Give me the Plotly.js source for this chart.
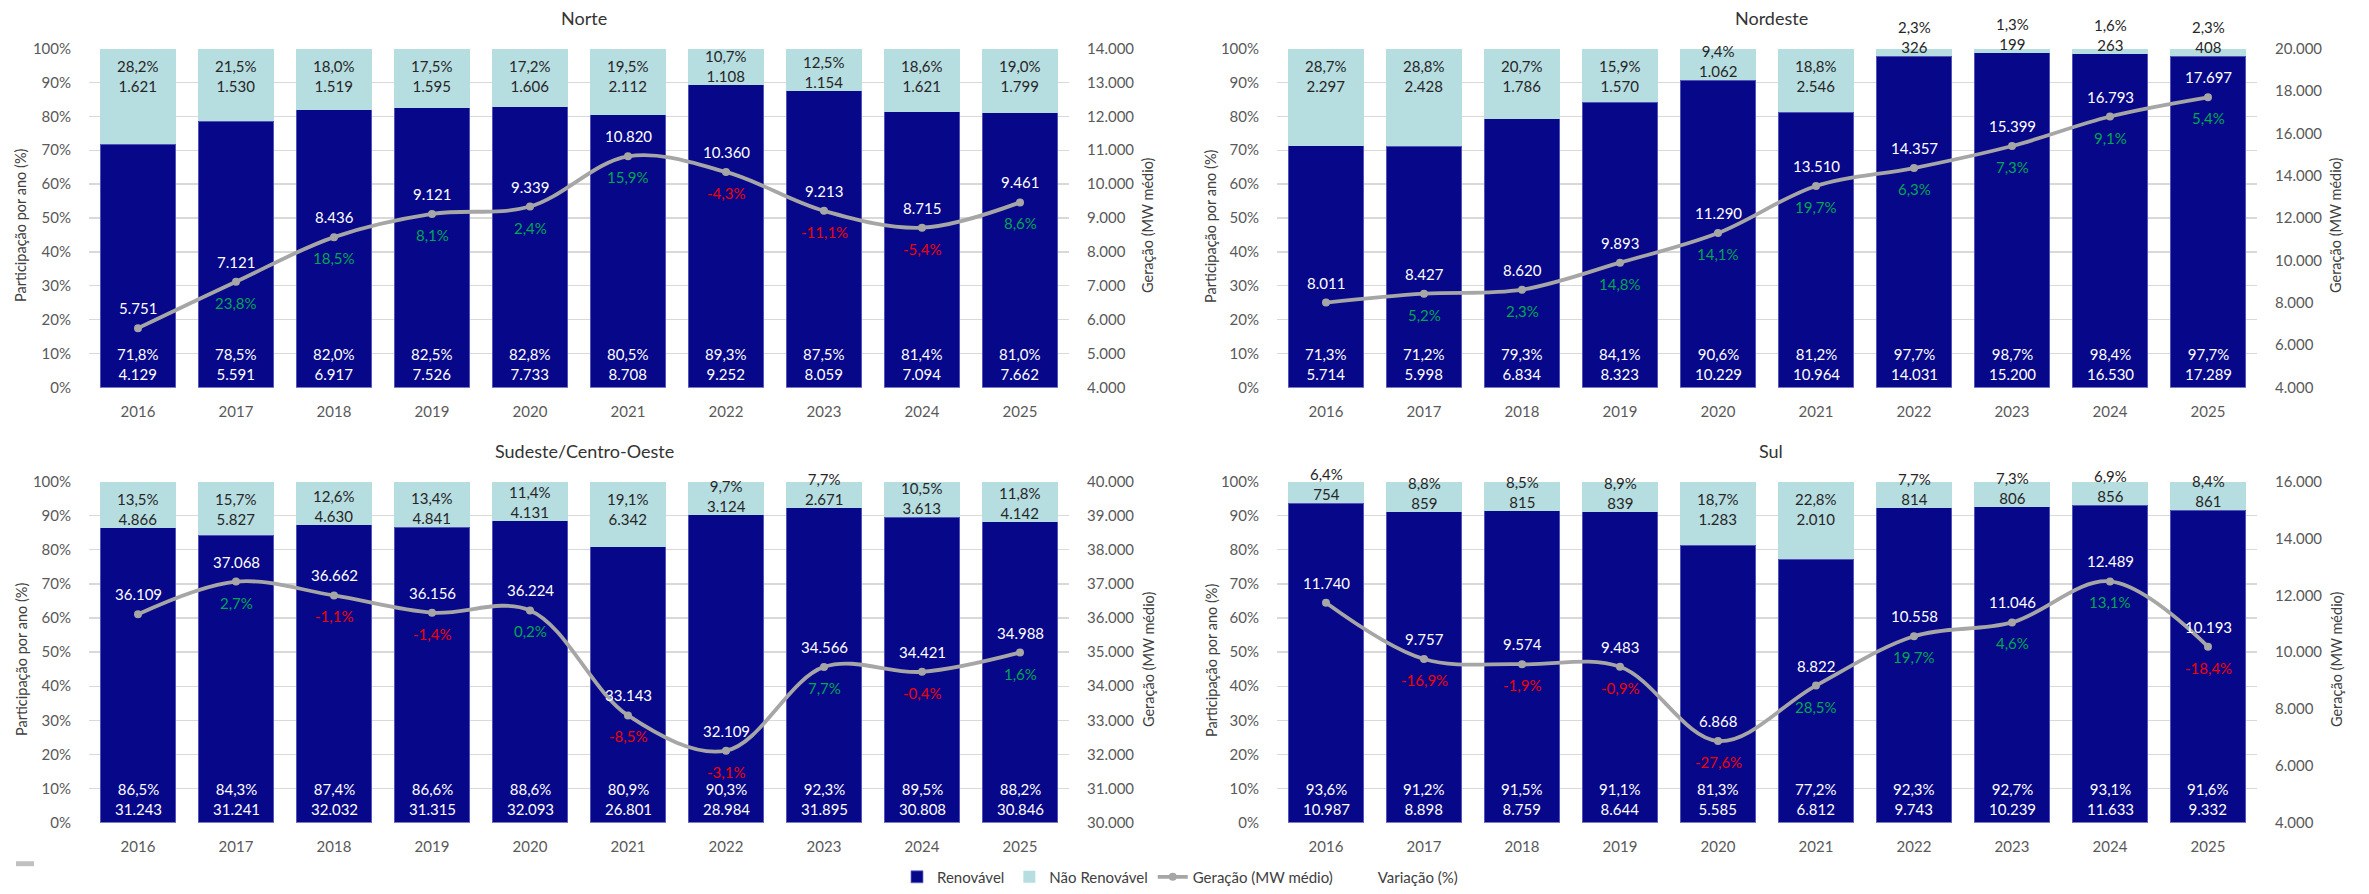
<!DOCTYPE html>
<html>
<head>
<meta charset="utf-8">
<script src="https://cdn.plot.ly/plotly-3.0.1.min.js"></script>
<style>
  html, body { margin: 0; padding: 0; background: #ffffff; }
  #chart { width: 2369px; height: 894px; }
</style>
</head>
<body>
<div id="chart"></div>
<script>
// Anos (categorias do eixo x)
const years = ['2016', '2017', '2018', '2019', '2020', '2021', '2022', '2023', '2024', '2025'];

// Norte
const nortePctRen = [71.8, 78.5, 82.0, 82.5, 82.8, 80.5, 89.3, 87.5, 81.4, 81.0];
const norteMwRen  = [4129, 5591, 6917, 7526, 7733, 8708, 9252, 8059, 7094, 7662];
const nortePctNao = [28.2, 21.5, 18.0, 17.5, 17.2, 19.5, 10.7, 12.5, 18.6, 19.0];
const norteMwNao  = [1621, 1530, 1519, 1595, 1606, 2112, 1108, 1154, 1621, 1799];
const norteGer    = [5751, 7121, 8436, 9121, 9339, 10820, 10360, 9213, 8715, 9461];
const norteVar    = [null, 23.8, 18.5, 8.1, 2.4, 15.9, -4.3, -11.1, -5.4, 8.6];

// Nordeste
const nordestePctRen = [71.3, 71.2, 79.3, 84.1, 90.6, 81.2, 97.7, 98.7, 98.4, 97.7];
const nordesteMwRen  = [5714, 5998, 6834, 8323, 10229, 10964, 14031, 15200, 16530, 17289];
const nordestePctNao = [28.7, 28.8, 20.7, 15.9, 9.4, 18.8, 2.3, 1.3, 1.6, 2.3];
const nordesteMwNao  = [2297, 2428, 1786, 1570, 1062, 2546, 326, 199, 263, 408];
const nordesteGer    = [8011, 8427, 8620, 9893, 11290, 13510, 14357, 15399, 16793, 17697];
const nordesteVar    = [null, 5.2, 2.3, 14.8, 14.1, 19.7, 6.3, 7.3, 9.1, 5.4];

// Sudeste/Centro-Oeste
const sudestePctRen = [86.5, 84.3, 87.4, 86.6, 88.6, 80.9, 90.3, 92.3, 89.5, 88.2];
const sudesteMwRen  = [31243, 31241, 32032, 31315, 32093, 26801, 28984, 31895, 30808, 30846];
const sudestePctNao = [13.5, 15.7, 12.6, 13.4, 11.4, 19.1, 9.7, 7.7, 10.5, 11.8];
const sudesteMwNao  = [4866, 5827, 4630, 4841, 4131, 6342, 3124, 2671, 3613, 4142];
const sudesteGer    = [36109, 37068, 36662, 36156, 36224, 33143, 32109, 34566, 34421, 34988];
const sudesteVar    = [null, 2.7, -1.1, -1.4, 0.2, -8.5, -3.1, 7.7, -0.4, 1.6];

// Sul
const sulPctRen = [93.6, 91.2, 91.5, 91.1, 81.3, 77.2, 92.3, 92.7, 93.1, 91.6];
const sulMwRen  = [10987, 8898, 8759, 8644, 5585, 6812, 9743, 10239, 11633, 9332];
const sulPctNao = [6.4, 8.8, 8.5, 8.9, 18.7, 22.8, 7.7, 7.3, 6.9, 8.4];
const sulMwNao  = [754, 859, 815, 839, 1283, 2010, 814, 806, 856, 861];
const sulGer    = [11740, 9757, 9574, 9483, 6868, 8822, 10558, 11046, 12489, 10193];
const sulVar    = [null, -16.9, -1.9, -0.9, -27.6, 28.5, 19.7, 4.6, 13.1, -18.4];

// Rótulos
const titles = ['Norte', 'Nordeste', 'Sudeste/Centro-Oeste', 'Sul'];
const seriesNames = ['Renovável', 'Não Renovável', 'Geração (MW médio)', 'Variação (%)'];
const leftTitle = 'Participação por ano (%)';
const rightTitle = 'Geração (MW médio)';
const pctTicks = [0, 10, 20, 30, 40, 50, 60, 70, 80, 90, 100];

// ---------------------------------------------------------------------------
const W = 2369, H = 894;
const px = x => x / W;
const py = y => 1 - y / H;

const COL_REN = '#07078A';
const COL_NAO = '#B6DDE0';
const COL_LINE = '#A6A6A6';
const COL_POS = '#00A650';
const COL_NEG = '#F00000';
const COL_TICK = '#595959';
const FONT = 'Lato, "Open Sans", "Noto Sans", sans-serif';

const fmtPct = v => v.toFixed(1).replace('.', ',') + '%';
const fmtMw = v => String(Math.round(v)).replace(/\B(?=(\d{3})+(?!\d))/g, '.');

const panels = [
  { pr: nortePctRen, mr: norteMwRen, pn: nortePctNao, mn: norteMwNao, ger: norteGer, vr: norteVar,
    gRange: [4000, 14000], gDtick: 1000 },
  { pr: nordestePctRen, mr: nordesteMwRen, pn: nordestePctNao, mn: nordesteMwNao, ger: nordesteGer, vr: nordesteVar,
    gRange: [4000, 20000], gDtick: 2000 },
  { pr: sudestePctRen, mr: sudesteMwRen, pn: sudestePctNao, mn: sudesteMwNao, ger: sudesteGer, vr: sudesteVar,
    gRange: [30000, 40000], gDtick: 1000 },
  { pr: sulPctRen, mr: sulMwRen, pn: sulPctNao, mn: sulMwNao, ger: sulGer, vr: sulVar,
    gRange: [4000, 16000], gDtick: 2000 }
];

// plot-area geometry (pixels) for the 2x2 grid
const colsGeom = [
  { l: 89, r: 1069, titleX: 584, leftT: 21, rightT: 1148 },
  { l: 1277, r: 2257, titleX: 1771, leftT: 1211, rightT: 2336 }
];
const rowsGeom = [
  { t: 49, b: 391, titleY: 18 },
  { t: 486, b: 830, titleY: 455 }
];

const traces = [];
const annotations = [];
const layout = {
  width: W, height: H,
  margin: { l: 0, r: 0, t: 0, b: 0 },
  paper_bgcolor: '#ffffff',
  plot_bgcolor: 'rgba(0,0,0,0)',
  font: { family: FONT, size: 15, color: '#404040' },
  separators: ',.',
  barmode: 'stack',
  bargap: 0.23,
  showlegend: true,
  hovermode: false,
  legend: {
    orientation: 'h',
    x: px(1180), xanchor: 'center',
    y: py(885), yanchor: 'middle',
    traceorder: 'normal',
    font: { family: FONT, size: 15, color: '#404040' },
    itemwidth: 30,
    bgcolor: 'rgba(0,0,0,0)'
  },
  shapes: [
    { type: 'rect', xref: 'paper', yref: 'paper',
      x0: px(16), x1: px(34), y0: py(874), y1: py(869),
      fillcolor: '#C0C0C0', line: { width: 0 } }
  ],
  annotations: annotations
};

panels.forEach((p, k) => {
  const col = colsGeom[k % 2];
  const row = rowsGeom[Math.floor(k / 2)];
  const n = k + 1;
  const xa = n === 1 ? 'x' : 'x' + n;
  const ya = n === 1 ? 'y' : 'y' + n;
  const yg = 'y' + (n + 4);
  const first = k === 0;

  layout['xaxis' + (n === 1 ? '' : n)] = {
    domain: [px(col.l), px(col.r)],
    anchor: ya,
    type: 'category',
    range: [-0.5, years.length - 0.5],
    autorange: false,
    showgrid: false, zeroline: false, showline: false,
    ticks: '', ticklabelstandoff: 13,
    tickfont: { family: FONT, size: 15, color: COL_TICK },
    fixedrange: true
  };
  layout['yaxis' + (n === 1 ? '' : n)] = {
    domain: [py(row.b), py(row.t)],
    anchor: xa,
    range: [0, 100],
    autorange: false,
    tickmode: 'array',
    tickvals: pctTicks,
    ticktext: pctTicks.map(v => v + '%'),
    showgrid: true, gridcolor: '#D9D9D9', gridwidth: 1.3,
    zeroline: false, showline: false,
    ticks: '', ticklabelstandoff: 17,
    tickfont: { family: FONT, size: 15, color: COL_TICK },
    fixedrange: true
  };
  layout['yaxis' + (n + 4)] = {
    overlaying: ya,
    anchor: xa,
    side: 'right',
    range: p.gRange,
    autorange: false,
    dtick: p.gDtick,
    tickformat: ',d',
    showgrid: false, zeroline: false, showline: false,
    ticks: '', ticklabelstandoff: 17,
    tickfont: { family: FONT, size: 15, color: COL_TICK },
    fixedrange: true
  };

  traces.push({
    type: 'bar', name: seriesNames[0], legendgroup: 'ren', showlegend: first,
    x: years, y: p.pr, xaxis: xa, yaxis: ya,
    marker: { color: COL_REN, line: { color: 'rgba(110,110,200,0.75)', width: 1 } },
    hoverinfo: 'skip'
  });
  traces.push({
    type: 'bar', name: seriesNames[1], legendgroup: 'nao', showlegend: first,
    x: years, y: p.pn, xaxis: xa, yaxis: ya,
    marker: { color: COL_NAO, line: { width: 0 } },
    hoverinfo: 'skip'
  });
  traces.push({
    type: 'scatter', mode: 'lines+markers', name: seriesNames[2], legendgroup: 'ger', showlegend: first,
    x: years, y: p.ger, xaxis: xa, yaxis: yg,
    line: { color: COL_LINE, width: 3.8, shape: 'spline', smoothing: 1 },
    marker: { color: COL_LINE, size: 8 },
    cliponaxis: false,
    hoverinfo: 'skip'
  });
  if (first) {
    traces.push({
      type: 'scatter', mode: 'lines', name: seriesNames[3], legendgroup: 'var', showlegend: true,
      x: [null], y: [null], xaxis: xa, yaxis: yg,
      line: { color: 'rgba(0,0,0,0)', width: 0 },
      hoverinfo: 'skip'
    });
  }

  // annotation x on a category axis is the category's serial number
  years.forEach((yr, i) => {
    // renováveis: base da barra
    annotations.push({
      xref: xa, yref: ya, x: i, y: 0, yanchor: 'bottom', yshift: 3,
      text: fmtPct(p.pr[i]) + '<br>' + fmtMw(p.mr[i]),
      showarrow: false, font: { family: FONT, size: 15, color: '#ffffff' }
    });
    // não renováveis: topo da barra
    annotations.push({
      xref: xa, yref: ya, x: i, y: Math.max(p.pr[i], 86.4), yanchor: 'bottom', yshift: -2,
      text: fmtPct(p.pn[i]) + '<br>' + fmtMw(p.mn[i]),
      showarrow: false, font: { family: FONT, size: 15, color: '#262626' }
    });
    // geração
    annotations.push({
      xref: xa, yref: yg, x: i, y: p.ger[i], yanchor: 'middle', yshift: 20,
      text: fmtMw(p.ger[i]),
      showarrow: false, font: { family: FONT, size: 15, color: '#ffffff' }
    });
    // variação anual
    if (p.vr[i] !== null) {
      annotations.push({
        xref: xa, yref: yg, x: i, y: p.ger[i], yanchor: 'middle', yshift: -21,
        text: fmtPct(p.vr[i]),
        showarrow: false, font: { family: FONT, size: 15, color: p.vr[i] < 0 ? COL_NEG : COL_POS }
      });
    }
  });

  // título do painel
  annotations.push({
    xref: 'paper', yref: 'paper', x: px(col.titleX), y: py(row.titleY),
    xanchor: 'center', yanchor: 'middle',
    text: titles[k], showarrow: false,
    font: { family: FONT, size: 18, color: '#333333' }
  });
  // títulos dos eixos
  annotations.push({
    xref: 'paper', yref: 'paper', x: px(col.leftT), y: py((row.t + row.b) / 2 + 8),
    xanchor: 'center', yanchor: 'middle', textangle: -90,
    text: leftTitle, showarrow: false,
    font: { family: FONT, size: 14.5, color: '#404040' }
  });
  annotations.push({
    xref: 'paper', yref: 'paper', x: px(col.rightT), y: py((row.t + row.b) / 2 + 8),
    xanchor: 'center', yanchor: 'middle', textangle: -90,
    text: rightTitle, showarrow: false,
    font: { family: FONT, size: 14.5, color: '#404040' }
  });
});

Plotly.newPlot('chart', traces, layout, { displayModeBar: false, staticPlot: true });
</script>
</body>
</html>
